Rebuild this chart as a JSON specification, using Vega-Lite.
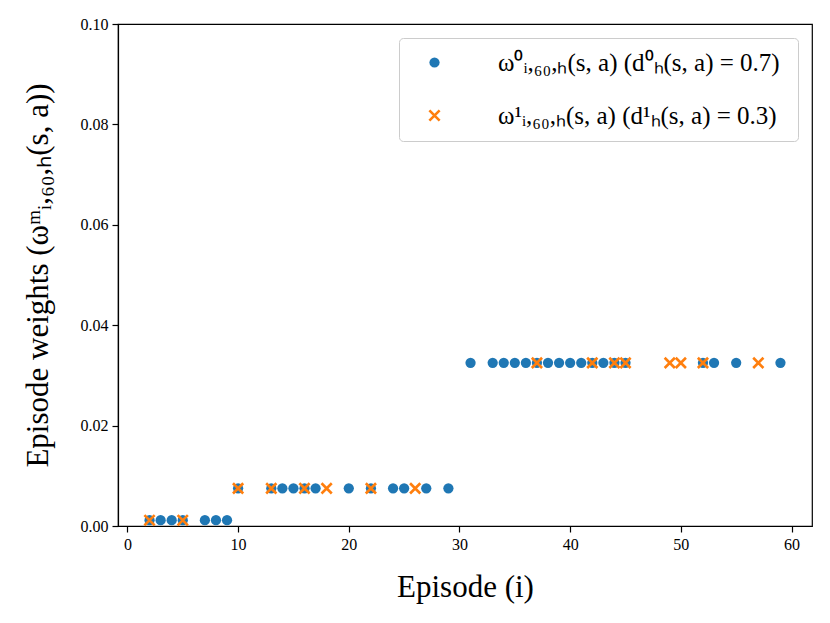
{
  "$schema": "https://vega.github.io/schema/vega-lite/v6.json",
  "width": 694,
  "height": 502,
  "autosize": "none",
  "padding": {"left": 118, "top": 24, "right": 18, "bottom": 97},
  "config": {
    "font": "Liberation Serif",
    "view": {"stroke": "black", "strokeWidth": 1.2},
    "axis": {
      "grid": false,
      "domainColor": "black",
      "domainWidth": 1.2,
      "tickColor": "black",
      "tickWidth": 1.2,
      "tickSize": 6,
      "labelColor": "black",
      "titleColor": "black",
      "labelFont": "Liberation Serif",
      "titleFont": "Liberation Serif",
      "labelFontSize": 16,
      "titleFontSize": 31,
      "titleFontWeight": "normal",
      "labelPadding": 4
    },
    "legend": {
      "orient": "top-right",
      "offset": 14,
      "padding": 12,
      "strokeColor": "#cccccc",
      "cornerRadius": 4,
      "fillColor": "rgba(255,255,255,0.85)",
      "labelFont": "Liberation Serif",
      "labelFontSize": 25,
      "labelColor": "black",
      "labelLimit": 0,
      "symbolSize": 105,
      "symbolOffset": 11,
      "labelOffset": 51,
      "rowPadding": 27
    }
  },
  "data": {
    "values": [
      {"episode": 2, "weight": 0.00115, "series": "ω⁰ᵢ,₆₀,ₕ(s, a)  (d⁰ₕ(s, a) = 0.7)"},
      {"episode": 3, "weight": 0.00115, "series": "ω⁰ᵢ,₆₀,ₕ(s, a)  (d⁰ₕ(s, a) = 0.7)"},
      {"episode": 4, "weight": 0.00115, "series": "ω⁰ᵢ,₆₀,ₕ(s, a)  (d⁰ₕ(s, a) = 0.7)"},
      {"episode": 5, "weight": 0.00115, "series": "ω⁰ᵢ,₆₀,ₕ(s, a)  (d⁰ₕ(s, a) = 0.7)"},
      {"episode": 7, "weight": 0.00115, "series": "ω⁰ᵢ,₆₀,ₕ(s, a)  (d⁰ₕ(s, a) = 0.7)"},
      {"episode": 8, "weight": 0.00115, "series": "ω⁰ᵢ,₆₀,ₕ(s, a)  (d⁰ₕ(s, a) = 0.7)"},
      {"episode": 9, "weight": 0.00115, "series": "ω⁰ᵢ,₆₀,ₕ(s, a)  (d⁰ₕ(s, a) = 0.7)"},
      {"episode": 10, "weight": 0.0075, "series": "ω⁰ᵢ,₆₀,ₕ(s, a)  (d⁰ₕ(s, a) = 0.7)"},
      {"episode": 13, "weight": 0.0075, "series": "ω⁰ᵢ,₆₀,ₕ(s, a)  (d⁰ₕ(s, a) = 0.7)"},
      {"episode": 14, "weight": 0.0075, "series": "ω⁰ᵢ,₆₀,ₕ(s, a)  (d⁰ₕ(s, a) = 0.7)"},
      {"episode": 15, "weight": 0.0075, "series": "ω⁰ᵢ,₆₀,ₕ(s, a)  (d⁰ₕ(s, a) = 0.7)"},
      {"episode": 16, "weight": 0.0075, "series": "ω⁰ᵢ,₆₀,ₕ(s, a)  (d⁰ₕ(s, a) = 0.7)"},
      {"episode": 17, "weight": 0.0075, "series": "ω⁰ᵢ,₆₀,ₕ(s, a)  (d⁰ₕ(s, a) = 0.7)"},
      {"episode": 20, "weight": 0.0075, "series": "ω⁰ᵢ,₆₀,ₕ(s, a)  (d⁰ₕ(s, a) = 0.7)"},
      {"episode": 22, "weight": 0.0075, "series": "ω⁰ᵢ,₆₀,ₕ(s, a)  (d⁰ₕ(s, a) = 0.7)"},
      {"episode": 24, "weight": 0.0075, "series": "ω⁰ᵢ,₆₀,ₕ(s, a)  (d⁰ₕ(s, a) = 0.7)"},
      {"episode": 25, "weight": 0.0075, "series": "ω⁰ᵢ,₆₀,ₕ(s, a)  (d⁰ₕ(s, a) = 0.7)"},
      {"episode": 27, "weight": 0.0075, "series": "ω⁰ᵢ,₆₀,ₕ(s, a)  (d⁰ₕ(s, a) = 0.7)"},
      {"episode": 29, "weight": 0.0075, "series": "ω⁰ᵢ,₆₀,ₕ(s, a)  (d⁰ₕ(s, a) = 0.7)"},
      {"episode": 31, "weight": 0.0325, "series": "ω⁰ᵢ,₆₀,ₕ(s, a)  (d⁰ₕ(s, a) = 0.7)"},
      {"episode": 33, "weight": 0.0325, "series": "ω⁰ᵢ,₆₀,ₕ(s, a)  (d⁰ₕ(s, a) = 0.7)"},
      {"episode": 34, "weight": 0.0325, "series": "ω⁰ᵢ,₆₀,ₕ(s, a)  (d⁰ₕ(s, a) = 0.7)"},
      {"episode": 35, "weight": 0.0325, "series": "ω⁰ᵢ,₆₀,ₕ(s, a)  (d⁰ₕ(s, a) = 0.7)"},
      {"episode": 36, "weight": 0.0325, "series": "ω⁰ᵢ,₆₀,ₕ(s, a)  (d⁰ₕ(s, a) = 0.7)"},
      {"episode": 37, "weight": 0.0325, "series": "ω⁰ᵢ,₆₀,ₕ(s, a)  (d⁰ₕ(s, a) = 0.7)"},
      {"episode": 38, "weight": 0.0325, "series": "ω⁰ᵢ,₆₀,ₕ(s, a)  (d⁰ₕ(s, a) = 0.7)"},
      {"episode": 39, "weight": 0.0325, "series": "ω⁰ᵢ,₆₀,ₕ(s, a)  (d⁰ₕ(s, a) = 0.7)"},
      {"episode": 40, "weight": 0.0325, "series": "ω⁰ᵢ,₆₀,ₕ(s, a)  (d⁰ₕ(s, a) = 0.7)"},
      {"episode": 41, "weight": 0.0325, "series": "ω⁰ᵢ,₆₀,ₕ(s, a)  (d⁰ₕ(s, a) = 0.7)"},
      {"episode": 42, "weight": 0.0325, "series": "ω⁰ᵢ,₆₀,ₕ(s, a)  (d⁰ₕ(s, a) = 0.7)"},
      {"episode": 43, "weight": 0.0325, "series": "ω⁰ᵢ,₆₀,ₕ(s, a)  (d⁰ₕ(s, a) = 0.7)"},
      {"episode": 44, "weight": 0.0325, "series": "ω⁰ᵢ,₆₀,ₕ(s, a)  (d⁰ₕ(s, a) = 0.7)"},
      {"episode": 45, "weight": 0.0325, "series": "ω⁰ᵢ,₆₀,ₕ(s, a)  (d⁰ₕ(s, a) = 0.7)"},
      {"episode": 52, "weight": 0.0325, "series": "ω⁰ᵢ,₆₀,ₕ(s, a)  (d⁰ₕ(s, a) = 0.7)"},
      {"episode": 53, "weight": 0.0325, "series": "ω⁰ᵢ,₆₀,ₕ(s, a)  (d⁰ₕ(s, a) = 0.7)"},
      {"episode": 55, "weight": 0.0325, "series": "ω⁰ᵢ,₆₀,ₕ(s, a)  (d⁰ₕ(s, a) = 0.7)"},
      {"episode": 59, "weight": 0.0325, "series": "ω⁰ᵢ,₆₀,ₕ(s, a)  (d⁰ₕ(s, a) = 0.7)"},
      {"episode": 2, "weight": 0.00115, "series": "ω¹ᵢ,₆₀,ₕ(s, a)  (d¹ₕ(s, a) = 0.3)"},
      {"episode": 5, "weight": 0.00115, "series": "ω¹ᵢ,₆₀,ₕ(s, a)  (d¹ₕ(s, a) = 0.3)"},
      {"episode": 10, "weight": 0.0075, "series": "ω¹ᵢ,₆₀,ₕ(s, a)  (d¹ₕ(s, a) = 0.3)"},
      {"episode": 13, "weight": 0.0075, "series": "ω¹ᵢ,₆₀,ₕ(s, a)  (d¹ₕ(s, a) = 0.3)"},
      {"episode": 16, "weight": 0.0075, "series": "ω¹ᵢ,₆₀,ₕ(s, a)  (d¹ₕ(s, a) = 0.3)"},
      {"episode": 18, "weight": 0.0075, "series": "ω¹ᵢ,₆₀,ₕ(s, a)  (d¹ₕ(s, a) = 0.3)"},
      {"episode": 22, "weight": 0.0075, "series": "ω¹ᵢ,₆₀,ₕ(s, a)  (d¹ₕ(s, a) = 0.3)"},
      {"episode": 26, "weight": 0.0075, "series": "ω¹ᵢ,₆₀,ₕ(s, a)  (d¹ₕ(s, a) = 0.3)"},
      {"episode": 37, "weight": 0.0325, "series": "ω¹ᵢ,₆₀,ₕ(s, a)  (d¹ₕ(s, a) = 0.3)"},
      {"episode": 42, "weight": 0.0325, "series": "ω¹ᵢ,₆₀,ₕ(s, a)  (d¹ₕ(s, a) = 0.3)"},
      {"episode": 44, "weight": 0.0325, "series": "ω¹ᵢ,₆₀,ₕ(s, a)  (d¹ₕ(s, a) = 0.3)"},
      {"episode": 45, "weight": 0.0325, "series": "ω¹ᵢ,₆₀,ₕ(s, a)  (d¹ₕ(s, a) = 0.3)"},
      {"episode": 49, "weight": 0.0325, "series": "ω¹ᵢ,₆₀,ₕ(s, a)  (d¹ₕ(s, a) = 0.3)"},
      {"episode": 50, "weight": 0.0325, "series": "ω¹ᵢ,₆₀,ₕ(s, a)  (d¹ₕ(s, a) = 0.3)"},
      {"episode": 52, "weight": 0.0325, "series": "ω¹ᵢ,₆₀,ₕ(s, a)  (d¹ₕ(s, a) = 0.3)"},
      {"episode": 57, "weight": 0.0325, "series": "ω¹ᵢ,₆₀,ₕ(s, a)  (d¹ₕ(s, a) = 0.3)"}
    ]
  },
  "mark": {"type": "point", "filled": true, "opacity": 1, "size": 105},
  "encoding": {
    "x": {
      "field": "episode",
      "type": "quantitative",
      "scale": {"domain": [-0.85, 61.85], "nice": false, "zero": false},
      "axis": {"values": [0, 10, 20, 30, 40, 50, 60], "title": "Episode (i)", "titlePadding": 20}
    },
    "y": {
      "field": "weight",
      "type": "quantitative",
      "scale": {"domain": [0, 0.1], "nice": false},
      "axis": {"values": [0, 0.02, 0.04, 0.06, 0.08, 0.1], "format": ".2f", "title": "Episode weights (ωᵐᵢ,₆₀,ₕ(s, a))", "titlePadding": 26}
    },
    "shape": {
      "field": "series",
      "type": "nominal",
      "title": null,
      "scale": {"domain": ["ω⁰ᵢ,₆₀,ₕ(s, a)  (d⁰ₕ(s, a) = 0.7)", "ω¹ᵢ,₆₀,ₕ(s, a)  (d¹ₕ(s, a) = 0.3)"], "range": ["circle", "M-1,-1L1,1M-1,1L1,-1"]}
    },
    "color": {
      "field": "series",
      "type": "nominal",
      "title": null,
      "scale": {"domain": ["ω⁰ᵢ,₆₀,ₕ(s, a)  (d⁰ₕ(s, a) = 0.7)", "ω¹ᵢ,₆₀,ₕ(s, a)  (d¹ₕ(s, a) = 0.3)"], "range": ["#1f77b4", "#ff7f0e"]}
    },
    "stroke": {
      "field": "series",
      "type": "nominal",
      "title": null,
      "scale": {"domain": ["ω⁰ᵢ,₆₀,ₕ(s, a)  (d⁰ₕ(s, a) = 0.7)", "ω¹ᵢ,₆₀,ₕ(s, a)  (d¹ₕ(s, a) = 0.3)"], "range": ["#1f77b4", "#ff7f0e"]}
    },
    "strokeWidth": {
      "field": "series",
      "type": "nominal",
      "title": null,
      "scale": {"domain": ["ω⁰ᵢ,₆₀,ₕ(s, a)  (d⁰ₕ(s, a) = 0.7)", "ω¹ᵢ,₆₀,ₕ(s, a)  (d¹ₕ(s, a) = 0.3)"], "range": [0, 2.6]}
    }
  }
}
